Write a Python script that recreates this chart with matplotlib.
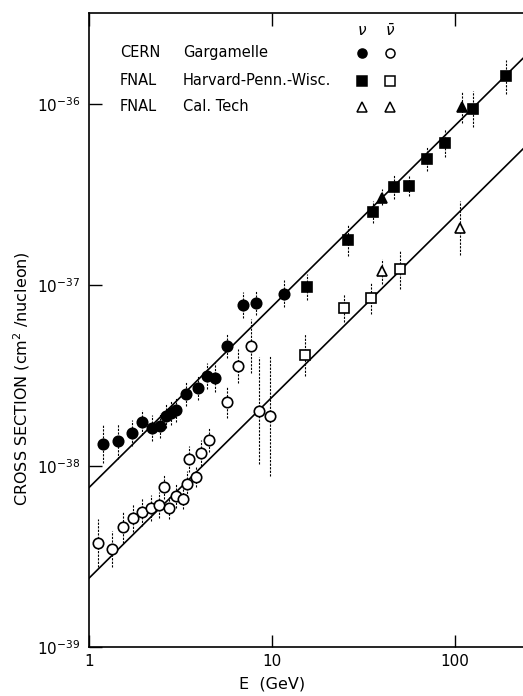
import numpy as np
import matplotlib
matplotlib.use('Agg')
import matplotlib.pyplot as plt

# ---- data (cross sections in units of 1e-38 cm^2/nucleon, E in GeV) ----
# CERN Gargamelle, neutrino (filled circles)
garg_nu_E = [1.19, 1.44, 1.72, 1.96, 2.21, 2.44, 2.63, 2.81, 2.99, 3.39, 3.92,
             4.39, 4.91, 5.68, 6.94, 8.18, 11.6]
garg_nu_s = [1.32, 1.37, 1.52, 1.74, 1.62, 1.67, 1.89, 1.96, 2.04, 2.50, 2.70,
             3.16, 3.08, 4.63, 7.76, 7.95, 8.97]
garg_nu_lo = [1.04, 1.10, 1.29, 1.49, 1.37, 1.42, 1.62, 1.68, 1.75, 2.15, 2.32,
              2.68, 2.55, 3.97, 6.58, 6.82, 7.60]
garg_nu_hi = [1.68, 1.70, 1.79, 2.03, 1.91, 1.97, 2.20, 2.28, 2.38, 2.91, 3.15,
              3.73, 3.73, 5.39, 9.16, 9.26, 10.6]

# CERN Gargamelle, antineutrino (open circles)
garg_nb_E = [1.12, 1.34, 1.54, 1.73, 1.96, 2.17, 2.41, 2.57, 2.74, 3.00, 3.26,
             3.45, 3.52, 3.83, 4.08, 4.51, 5.66, 6.48, 7.65, 8.49, 9.71]
garg_nb_s = [0.374, 0.348, 0.460, 0.518, 0.555, 0.584, 0.609, 0.770, 0.586, 0.683,
             0.655, 0.795, 1.089, 0.869, 1.175, 1.392, 2.265, 3.57, 4.60, 2.02, 1.89]
garg_nb_lo = [0.276, 0.277, 0.375, 0.433, 0.464, 0.495, 0.516, 0.661, 0.510, 0.586,
              0.577, 0.674, 0.923, 0.765, 0.996, 1.195, 1.847, 2.87, 3.26, 1.02, 0.88]
garg_nb_hi = [0.508, 0.437, 0.564, 0.619, 0.663, 0.689, 0.719, 0.897, 0.674, 0.796,
              0.744, 0.938, 1.285, 0.987, 1.387, 1.622, 2.777, 4.43, 6.49, 4.02, 4.04]

# FNAL Harvard-Penn.-Wisc., neutrino (filled squares)
hpw_nu_E = [15.5, 26.1, 35.5, 46.4, 56.3, 70.3, 88.7, 126, 190]
hpw_nu_s = [9.79, 17.7, 25.4, 34.6, 35.1, 49.5, 60.9, 93.8, 142]
hpw_nu_lo = [8.30, 14.4, 22.1, 29.7, 30.9, 42.5, 51.0, 74.6, 114]
hpw_nu_hi = [11.55, 21.7, 29.2, 40.3, 39.9, 57.7, 72.8, 117.9, 176]

# FNAL Harvard-Penn.-Wisc., antineutrino (open squares)
hpw_nb_E = [15.1, 24.8, 34.9, 50.1]
hpw_nb_s = [4.10, 7.49, 8.47, 12.2]
hpw_nb_lo = [3.13, 6.27, 6.91, 9.46]
hpw_nb_hi = [5.37, 8.95, 10.38, 15.7]

# FNAL Cal. Tech, neutrino (filled triangles)
cit_nu_E = [39.8, 109]
cit_nu_s = [30.4, 96.8]
cit_nu_lo = [27.5, 79.0]
cit_nu_hi = [33.7, 118.7]

# FNAL Cal. Tech, antineutrino (open triangles)
cit_nb_E = [40.0, 107]
cit_nb_s = [11.9, 20.6]
cit_nb_lo = [10.1, 14.6]
cit_nb_hi = [14.0, 29.0]

# linear fits sigma = slope * E
slope_nu = 0.76
slope_nb = 0.24

fig = plt.figure(figsize=(5.23, 6.96), dpi=100)
ax = fig.add_axes([89 / 523, 49 / 696, 457.5 / 523, 634 / 696])

xmax = 10 ** 2.5
ymax = 10 ** (-39 + 634 / 181)
ax.set_xscale('log')
ax.set_yscale('log')
ax.set_xlim(1, xmax)
ax.set_ylim(1e-39, ymax)

E_line = np.array([1, xmax])
ax.plot(E_line, slope_nu * 1e-38 * E_line, color='black', lw=1.2, zorder=2)
ax.plot(E_line, slope_nb * 1e-38 * E_line, color='black', lw=1.2, zorder=2)


def draw(E, s, lo, hi, marker, filled, ms):
    E = np.array(E)
    s = np.array(s) * 1e-38
    lo = np.array(lo) * 1e-38
    hi = np.array(hi) * 1e-38
    ax.vlines(E, lo, hi, color='black', lw=0.8, linestyles=(0, (2, 1.2)), zorder=1)
    ax.plot(E, s, linestyle='none', marker=marker, ms=ms,
            mfc='black' if filled else 'white', mec='black', mew=1.2, zorder=3)


draw(garg_nu_E, garg_nu_s, garg_nu_lo, garg_nu_hi, 'o', True, 7.5)
draw(garg_nb_E, garg_nb_s, garg_nb_lo, garg_nb_hi, 'o', False, 7.5)
draw(hpw_nu_E, hpw_nu_s, hpw_nu_lo, hpw_nu_hi, 's', True, 6.5)
draw(hpw_nb_E, hpw_nb_s, hpw_nb_lo, hpw_nb_hi, 's', False, 6.5)
draw(cit_nu_E, cit_nu_s, cit_nu_lo, cit_nu_hi, '^', True, 7)
draw(cit_nb_E, cit_nb_s, cit_nb_lo, cit_nb_hi, '^', False, 7)

# axes styling
ax.spines['right'].set_visible(False)
for sp in ax.spines.values():
    sp.set_linewidth(1.2)
ax.set_xticks([1, 10, 100])
ax.set_xticklabels(['1', '10', '100'])
ax.set_yticks([1e-39, 1e-38, 1e-37, 1e-36])
ax.set_yticklabels([r'$10^{-39}$', r'$10^{-38}$', r'$10^{-37}$', r'$10^{-36}$'])
ax.minorticks_off()
ax.tick_params(axis='both', direction='in', length=9, width=1.0, labelsize=11,
               top=True, right=False)
ax.tick_params(axis='x', pad=5)
ax.tick_params(axis='y', pad=6)

ax.set_ylabel(r'CROSS SECTION (cm$^{2}$ /nucleon)', fontsize=11.5)
ax.yaxis.set_label_coords(-0.125, 0.424)
ax.set_xlabel('E  (GeV)', fontsize=11.5)
ax.xaxis.label.set_va('center')
ax.xaxis.set_label_coords(0.40, -0.058)

# hand-made legend
tr = ax.transAxes
col_nu, col_nb = 0.596, 0.658
ax.text(col_nu, 0.972, r'$\nu$', transform=tr, ha='center', va='center', fontsize=11)
ax.text(col_nb, 0.972, r'$\bar{\nu}$', transform=tr, ha='center', va='center', fontsize=11)
rows = [
    ('CERN', 'Gargamelle', 'o', 'o', True, 0.937),
    ('FNAL', 'Harvard-Penn.-Wisc.', 's', 's', True, 0.893),
    ('FNAL', 'Cal. Tech', '^', '^', False, 0.852),
]
for lab, exp, m1, m2, fill1, yy in rows:
    ax.text(0.068, yy, lab, transform=tr, ha='left', va='center', fontsize=10.5)
    ax.text(0.205, yy, exp, transform=tr, ha='left', va='center', fontsize=10.5)
    ax.plot([col_nu], [yy], transform=tr, marker=m1, ms=6.5, linestyle='none',
            mfc='black' if fill1 else 'white', mec='black', mew=1.1)
    ax.plot([col_nb], [yy], transform=tr, marker=m2, ms=6.5, linestyle='none',
            mfc='white', mec='black', mew=1.1)

fig.savefig('out.png', dpi=100)
